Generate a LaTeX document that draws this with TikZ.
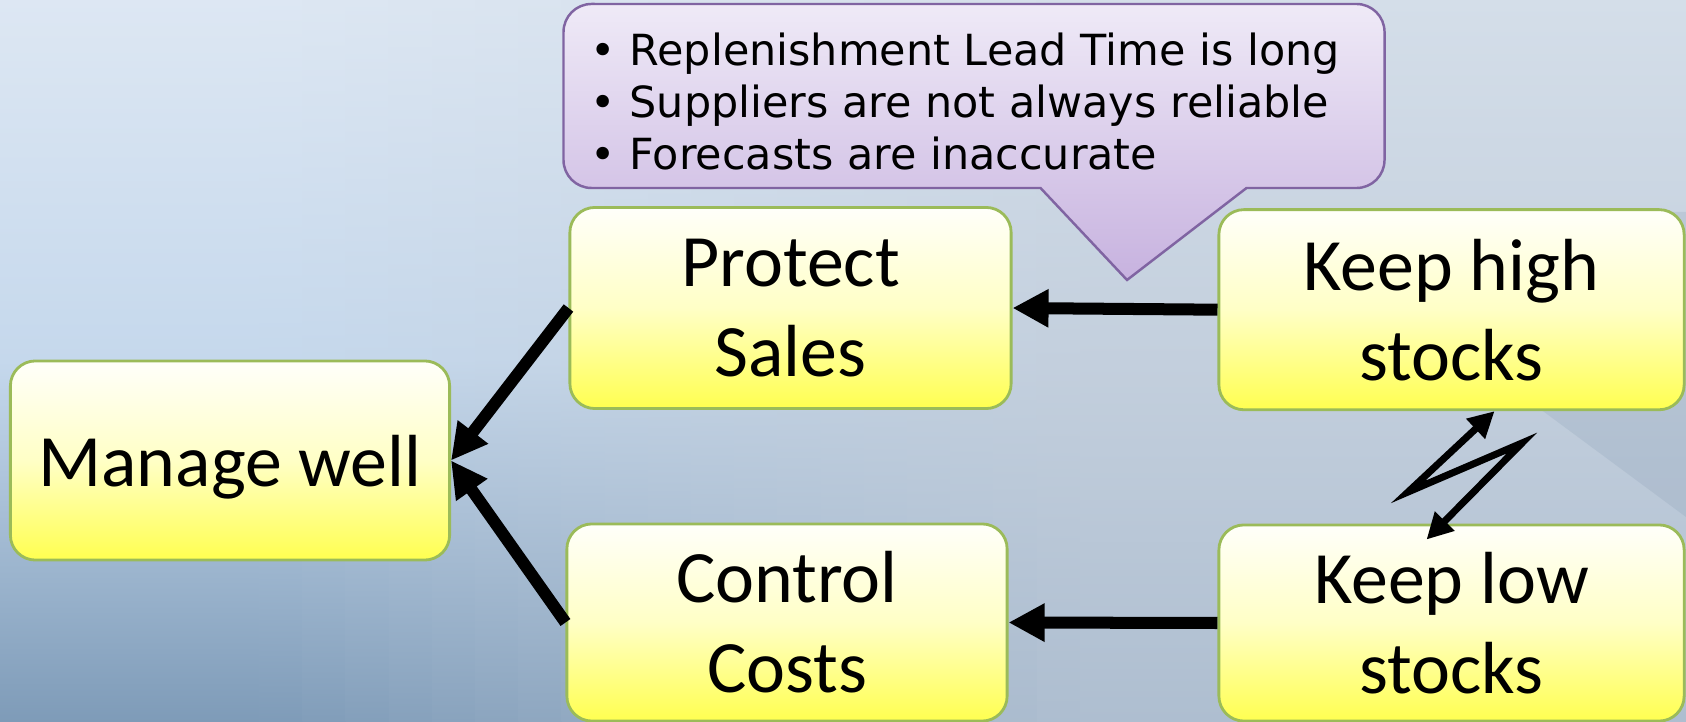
\documentclass[tikz,border=0pt]{standalone}
\usepackage{fontspec}
\setmainfont{Carlito}
\newfontfamily\notefont{DejaVu Sans}
\usetikzlibrary{arrows.meta}

\definecolor{boxedge}{HTML}{9BBB59}
\definecolor{boxtop}{HTML}{FFFFFA}
\definecolor{boxmid}{HTML}{FFFFC6}
\definecolor{boxbot}{HTML}{FFFF50}
\definecolor{noteedge}{HTML}{8064A2}
\definecolor{notetop}{HTML}{EFEAF7}
\definecolor{notebot}{HTML}{C7B2DF}
\definecolor{bgtop}{HTML}{DDE7F3}
\definecolor{bgmid}{HTML}{C5D8EC}
\definecolor{bgbot}{HTML}{7E9BB8}
\definecolor{bgtopr}{HTML}{D4DEE9}
\definecolor{bgmidr}{HTML}{C3CFDD}
\definecolor{bgbotr}{HTML}{AEBED0}
\definecolor{bgdark}{HTML}{8096AE}

\begin{document}
\begin{tikzpicture}
            [
                x = 0.01cm,
                y = 0.01cm,
                goal/.style={
                    draw = boxedge,
                    line width = 0.8pt,
                    rounded corners = 0.25cm,
                    top color = boxtop,
                    bottom color = boxbot,
                    middle color = boxmid,
                    align = center,
                    inner sep = 0pt,
                    font = \fontsize{21}{25.6}\selectfont
                },
                link/.style={
                    line width = 0.12cm,
                    -{Triangle[length=0.36cm, width=0.36cm]}
                },
                zap/.style={
                    line width = 2pt,
                    miter limit = 12,
                    {Triangle[length=0.26cm, width=0.26cm]}-{Triangle[length=0.26cm, width=0.26cm]}
                },
            ]

                \useasboundingbox (0,0) rectangle (1686,-722);
                \foreach \i in {0,...,39}{
                    \pgfmathsetmacro\p{min(100,max(0,(\i*43.2-250)/8))}
                    \colorlet{striptop}{bgtopr!\p!bgtop}
                    \colorlet{stripmid}{bgmidr!\p!bgmid}
                    \colorlet{stripbot}{bgbotr!\p!bgbot}
                    \shade[top color=striptop, bottom color=stripbot, middle color=stripmid]
                        (\i*43.2,0) rectangle (\i*43.2+44,-722);
                }
                \fill[bgdark, opacity=0.2] (1274,-212) -- (1686,-517) -- (1686,-212) -- cycle;

                \path[draw=noteedge, line width=0.7pt, top color=notetop, bottom color=notebot]
                    (591.5,-4) -- (1356.5,-4) arc[start angle=90, end angle=0, radius=0.28cm]
                    -- (1384.5,-160) arc[start angle=0, end angle=-90, radius=0.28cm]
                    -- (1246.5,-188) -- (1127,-280) -- (1040.5,-188)
                    -- (591.5,-188) arc[start angle=270, end angle=180, radius=0.28cm]
                    -- (563.5,-32) arc[start angle=180, end angle=90, radius=0.28cm] -- cycle;
                \node[font=\notefont\fontsize{12.2}{14.8}\selectfont, align=left, anchor=north west, inner sep=0pt]
                    (note) at (590,-32) {• Replenishment Lead Time is long\\• Suppliers are not always reliable\\• Forecasts are inaccurate};

                \node[goal, minimum width=4.39cm, minimum height=1.99cm, text depth=0pt] (mw) at (230,-460.5) {Manage well};
                \node[goal, minimum width=4.41cm, minimum height=2.01cm] (ps) at (790.5,-308) {Protect\\Sales};
                \node[goal, minimum width=4.40cm, minimum height=1.97cm] (cc) at (787,-622.5) {Control\\Costs};
                \node[goal, minimum width=4.65cm, minimum height=2cm] (kh) at (1451.5,-309.7) {Keep high\\stocks};
                \node[goal, minimum width=4.65cm, minimum height=1.96cm] (kl) at (1451.5,-623) {Keep low\\stocks};

                \draw[link] (kh.west) -- (ps.east);
                \draw[link] (kl.west) -- (cc.east);
                \draw[link] (ps.west) -- (mw.east);
                \draw[link] (cc.west) -- (mw.east);

                \coordinate (zt) at ([xshift=0.43cm]kh.south);
                \coordinate (zl) at (1408,-492);
                \coordinate (zr) at (1522,-443);
                \coordinate (zb) at ([xshift=-0.25cm, yshift=-0.16cm]kl.north);
                \draw[zap] (zt) -- (zl) -- (zr) -- (zb);
            \end{tikzpicture}
\end{document}
